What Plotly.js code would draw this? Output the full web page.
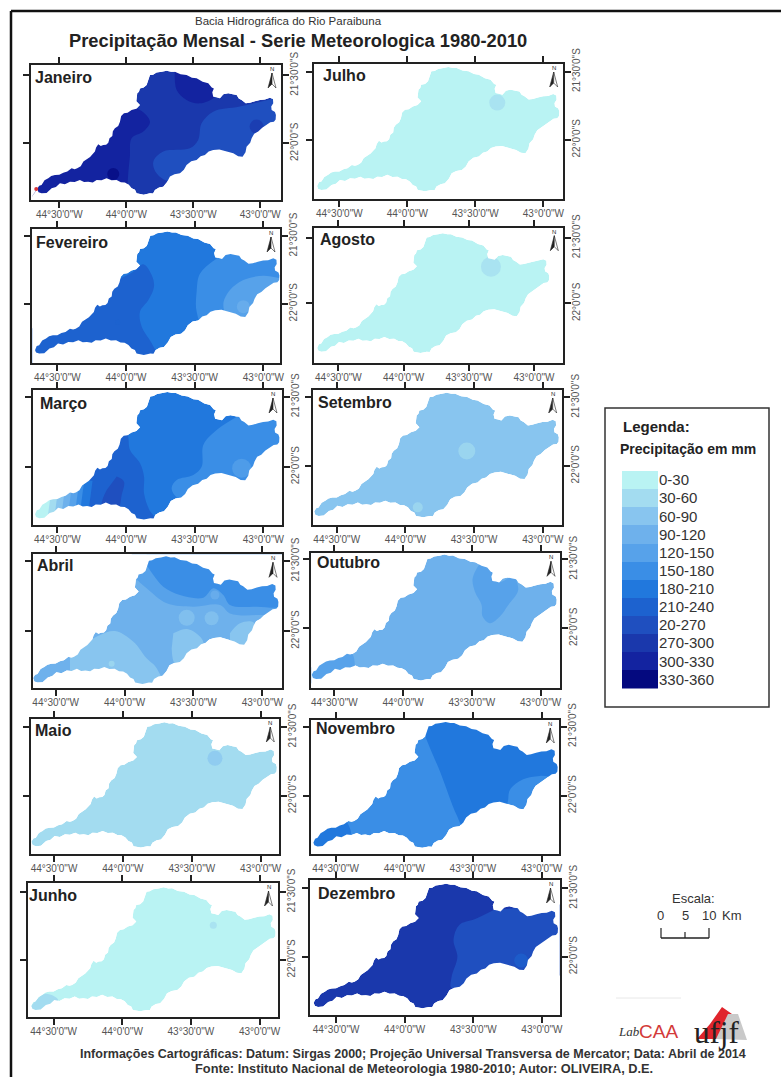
<!DOCTYPE html>
<html><head><meta charset="utf-8">
<script src="https://cdn.plot.ly/plotly-3.0.1.min.js"></script>
<style>html,body{margin:0;padding:0;background:#fff}#c{width:781px;height:1077px}</style>
</head><body><div id="c"></div>
<script>
const W=781,H=1077;
const classLabels=["0-30","30-60","60-90","90-120","120-150","150-180","180-210","210-240","20-270","270-300","300-330","330-360"];
const classColors=["#b9f3f3","#a3dcf0","#88c5ef","#6eb1ec","#57a2ea","#3a8ee6","#2178dd","#1d62cf","#1f4fbf","#1a38ac","#1323a0","#04097f"];
const months=["Janeiro","Julho","Fevereiro","Agosto","Março","Setembro","Abril","Outubro","Maio","Novembro","Junho","Dezembro"];
const monthBase=[9,0,6,0,6,2,3,3,1,5,0,9];
const frames=[[31,65,281,200],[314,64,562.7,199],[32.3,229,280,363.3],[314,227.7,563.3,362.7],[32.7,390,282,525],[312.7,390,561.7,525],[32.7,554.3,282,688.3],[311.3,553.3,560,688.3],[30.7,719,279.3,854],[310.7,720,559.3,854.3],[28,883,277.5,1017],[310,880,559.5,1015]];
const lonRanges=[[-44.711,-42.845],[-44.686,-42.858],[-44.682,-42.879],[-44.687,-42.775],[-44.680,-42.864],[-44.675,-42.862],[-44.667,-42.857],[-44.667,-42.859],[-44.669,-42.865],[-44.682,-42.871],[-44.687,-42.869],[-44.690,-42.872]];
const latRanges=[[-22.417,-21.424],[-22.434,-21.444],[-22.440,-21.448],[-22.452,-21.424],[-22.417,-21.452],[-22.434,-21.446],[-22.409,-21.452],[-22.435,-21.457],[-22.425,-21.442],[-22.425,-21.452],[-22.420,-21.434],[-22.427,-21.439]];
const titleX=[33,321,34,318,38,316,35,315,33,314,27,316];
const titleY=[77,76,242,239,403,402,565,562,730,728,895,893];
const lonTicks=[-44.5,-44,-43.5,-43], lonLabels=["44°30'0\"W","44°0'0\"W","43°30'0\"W","43°0'0\"W"];
const latTicks=[-21.5,-22], latLabels=["21°30'0\"S","22°0'0\"S"];

const basinLon=[-44.664,-44.650,-44.632,-44.610,-44.582,-44.560,-44.532,-44.500,-44.470,-44.440,-44.408,-44.385,-44.366,-44.340,-44.320,-44.301,-44.270,-44.234,-44.225,-44.209,-44.190,-44.172,-44.150,-44.134,-44.125,-44.104,-44.100,-44.085,-44.060,-44.047,-44.038,-44.017,-43.990,-43.960,-43.925,-43.898,-43.925,-43.918,-43.905,-43.898,-43.870,-43.848,-43.835,-43.823,-43.800,-43.774,-43.735,-43.699,-43.665,-43.637,-43.595,-43.550,-43.510,-43.475,-43.430,-43.388,-43.362,-43.346,-43.358,-43.351,-43.325,-43.301,-43.275,-43.239,-43.205,-43.176,-43.160,-43.139,-43.108,-43.077,-43.040,-43.002,-42.965,-42.928,-42.905,-42.903,-42.918,-42.915,-42.890,-42.883,-42.885,-42.898,-42.925,-42.952,-42.985,-43.015,-43.045,-43.064,-43.075,-43.102,-43.110,-43.132,-43.165,-43.201,-43.230,-43.263,-43.305,-43.351,-43.385,-43.413,-43.445,-43.475,-43.515,-43.550,-43.570,-43.599,-43.640,-43.674,-43.695,-43.724,-43.755,-43.786,-43.800,-43.823,-43.870,-43.923,-43.935,-43.960,-43.982,-44.010,-44.040,-44.072,-44.110,-44.147,-44.185,-44.221,-44.250,-44.284,-44.315,-44.346,-44.385,-44.420,-44.458,-44.495,-44.525,-44.557,-44.595,-44.632,-44.655];
const basinLat=[-22.336,-22.312,-22.306,-22.272,-22.257,-22.240,-22.233,-22.232,-22.216,-22.208,-22.184,-22.190,-22.184,-22.168,-22.134,-22.123,-22.100,-22.061,-22.030,-22.007,-22.020,-22.012,-22.010,-21.995,-21.962,-21.946,-21.912,-21.890,-21.872,-21.841,-21.800,-21.779,-21.775,-21.755,-21.745,-21.718,-21.690,-21.632,-21.620,-21.596,-21.590,-21.571,-21.535,-21.498,-21.495,-21.480,-21.474,-21.466,-21.474,-21.473,-21.492,-21.498,-21.518,-21.522,-21.548,-21.559,-21.590,-21.596,-21.625,-21.657,-21.662,-21.669,-21.640,-21.632,-21.640,-21.645,-21.670,-21.681,-21.705,-21.701,-21.690,-21.681,-21.678,-21.664,-21.675,-21.706,-21.730,-21.755,-21.770,-21.792,-21.825,-21.841,-21.845,-21.865,-21.885,-21.914,-21.930,-21.963,-21.995,-22.025,-22.065,-22.098,-22.095,-22.074,-22.065,-22.054,-22.045,-22.049,-22.060,-22.086,-22.095,-22.123,-22.132,-22.159,-22.195,-22.221,-22.228,-22.245,-22.285,-22.319,-22.325,-22.343,-22.370,-22.368,-22.378,-22.368,-22.342,-22.331,-22.305,-22.289,-22.287,-22.270,-22.272,-22.257,-22.272,-22.270,-22.288,-22.282,-22.285,-22.270,-22.285,-22.282,-22.302,-22.294,-22.322,-22.331,-22.365,-22.368,-22.360];

// Zones of each month: class index, longitudes, latitudes
const zonesJaneiro=[
 [10,[-44.694,-44.694,-44.022,-43.898,-43.823,-43.873,-43.960,-43.973,-43.985,-43.997],[-22.417,-22.172,-21.730,-21.755,-21.841,-21.914,-21.963,-22.098,-22.221,-22.417]],
 [8,[-42.853,-43.152,-43.351,-43.438,-43.463,-43.525,-43.724,-43.798,-43.774,-43.674,-43.351,-42.853],[-21.657,-21.730,-21.767,-21.853,-21.975,-22.037,-22.061,-22.135,-22.221,-22.282,-22.221,-22.123]],
 [10,[-43.637,-43.624,-43.550,-43.450,-43.338,-43.301,-43.450],[-21.449,-21.608,-21.681,-21.706,-21.657,-21.559,-21.436]]];
const zonesFevereiro=[
 [7,[-44.699,-44.699,-43.947,-43.874,-43.813,-43.796,-43.837,-43.898,-43.886,-43.813,-43.765,-43.752],[-22.452,-22.206,-21.763,-21.709,-21.788,-21.874,-21.972,-22.058,-22.169,-22.292,-22.391,-22.452]],
 [5,[-43.340,-43.461,-43.486,-43.486,-43.437,-42.830,-42.830,-43.219],[-21.665,-21.776,-21.911,-22.058,-22.157,-22.157,-21.591,-21.591]],
 [4,[-42.879,-43.000,-43.146,-43.243,-43.291,-43.267,-43.121,-42.830],[-21.812,-21.793,-21.825,-21.899,-21.997,-22.083,-22.157,-22.083]]];
const zonesMarco=[
 [7,[-44.019,-43.988,-43.971,-43.898,-43.869,-43.869,-43.830,-43.777,-43.777,-44.335,-44.335,-44.189],[-21.738,-21.774,-21.881,-21.976,-22.071,-22.190,-22.309,-22.381,-22.428,-22.428,-22.143,-21.952]],
 [8,[-44.068,-44.015,-44.032,-44.056,-44.129,-44.177,-44.141],[-22.071,-22.107,-22.202,-22.297,-22.321,-22.274,-22.166]],
 [5,[-43.170,-43.340,-43.437,-43.449,-43.510,-43.631,-43.668,-43.619,-43.364,-42.806,-42.806],[-21.631,-21.738,-21.845,-22.000,-22.059,-22.095,-22.155,-22.226,-22.190,-22.095,-21.595]]];
// March fades towards the south-west tip: class index, eastern limit (lon)
const marcoBandClass=[6,5,4,3,2,1,0];
const marcoBandLon=[-44.274,-44.335,-44.371,-44.420,-44.468,-44.517,-44.566];
const zonesAbril=[
 [2,[-44.396,-44.299,-44.178,-44.069,-43.936,-43.840,-43.767,-43.719,-44.396],[-22.195,-22.100,-22.028,-22.000,-22.076,-22.195,-22.266,-22.433,-22.433]],
 [4,[-43.948,-43.840,-43.694,-43.501,-43.307,-43.235,-43.041,-42.824,-42.824,-43.948],[-21.600,-21.695,-21.802,-21.826,-21.814,-21.874,-21.886,-21.850,-21.433,-21.433]],
 [5,[-43.840,-43.791,-43.719,-43.598,-43.428,-43.356,-43.283,-43.235,-43.041,-42.824,-42.824,-43.840],[-21.529,-21.600,-21.683,-21.743,-21.762,-21.695,-21.743,-21.814,-21.826,-21.809,-21.433,-21.433]],
 [2,[-43.646,-43.549,-43.465,-43.428,-43.549,-43.634,-43.658],[-22.016,-21.986,-22.028,-22.088,-22.195,-22.231,-22.124]],
 [2,[-43.235,-43.162,-43.066,-43.029,-43.138,-43.235],[-22.016,-21.945,-21.938,-22.052,-22.147,-22.076]],
 [3,[-44.183,-44.130,-44.069,-44.130],[-22.290,-22.271,-22.290,-22.323]]];
const zonesOutubro=[
 [4,[-43.441,-43.494,-43.478,-43.429,-43.422,-43.368,-43.296,-43.235,-43.163,-43.199,-43.296,-43.356,-43.356],[-21.529,-21.638,-21.734,-21.831,-21.915,-21.964,-21.915,-21.831,-21.722,-21.626,-21.662,-21.589,-21.517]],
 [4,[-44.350,-44.374,-44.531,-44.689,-44.653,-44.483],[-22.302,-22.181,-22.205,-22.314,-22.410,-22.410]],
 [4,[-44.187,-44.120,-44.047,-44.124],[-22.307,-22.278,-22.304,-22.338]]];
const zonesNovembro=[
 [6,[-43.886,-43.850,-43.740,-43.619,-43.558,-43.304,-43.250,-43.231,-43.134,-43.012,-42.818,-42.818],[-21.428,-21.560,-21.826,-22.140,-22.237,-22.104,-22.055,-21.959,-21.882,-21.857,-21.857,-21.428]],
 [6,[-44.420,-44.391,-44.541,-44.711,-44.711,-44.566],[-22.188,-22.285,-22.381,-22.406,-22.249,-22.200]]];
const zonesJunho=[
 [1,[-44.667,-44.561,-44.467,-44.542,-44.625],[-22.342,-22.249,-22.293,-22.347,-22.415]],
 [1,[-44.185,-44.115,-44.054,-44.124],[-22.322,-22.298,-22.313,-22.349]]];
const zonesDezembro=[
 [8,[-43.351,-43.491,-43.602,-43.644,-43.616,-43.658,-43.658,-43.323,-42.766,-42.766],[-21.659,-21.727,-21.768,-21.878,-22.000,-22.147,-22.232,-22.122,-22.098,-21.610]]];
const monthZones=[zonesJaneiro,[],zonesFevereiro,[],zonesMarco,[],zonesAbril,zonesOutubro,[],zonesNovembro,zonesJunho,zonesDezembro];

// Local spots of each month: class index, lon, lat, size
const spotsMonth=[
 [[11,-44.097,-22.225,12],[9,-43.027,-21.877,14]],
 [[1,-43.339,-21.727,16]],
 [[3,-43.146,-22.022,13],[7,-44.061,-22.137,5]],
 [[1,-43.330,-21.721,20]],
 [[4,-43.158,-22.012,19]],
 [[1,-43.553,-21.893,17],[1,-43.910,-22.305,10]],
 [[2,-43.549,-21.905,16],[2,-43.368,-21.909,14],[3,-43.344,-21.743,9],[1,-44.094,-22.233,6]],
 [],
 [[2,-43.332,-21.728,15]],
 [],
 [[1,-43.337,-21.744,7]],
 [[7,-43.151,-22.029,14]]];

const px=x=>x/W, py=y=>1-y/H;
const traces=[],annotations=[],shapes=[],layout={};
const axisFont={family:"Liberation Sans, Arial, sans-serif",size:10,color:"#555"};
months.forEach((m,i)=>{
  const k=i+1, xa=k===1?"x":"x"+k, ya=k===1?"y":"y"+k;
  const f=frames[i], lr=lonRanges[i], ar=latRanges[i];
  layout[k===1?"xaxis":"xaxis"+k]={domain:[px(f[0]),px(f[2])],range:lr,anchor:ya,tickmode:"array",tickvals:lonTicks,ticktext:lonLabels,ticks:"outside",ticklen:6,tickwidth:1.5,tickcolor:"#222",linecolor:"#222",linewidth:2,mirror:"ticks",showgrid:false,zeroline:false,tickangle:0,tickfont:axisFont,ticklabelstandoff:-2};
  layout[k===1?"yaxis":"yaxis"+k]={domain:[py(f[3]),py(f[1])],range:ar,anchor:xa,side:"right",tickmode:"array",tickvals:latTicks,ticktext:latLabels,ticks:"outside",ticklen:6,tickwidth:1.5,tickcolor:"#222",linecolor:"#222",linewidth:2,mirror:"ticks",showgrid:false,zeroline:false,tickangle:-90,tickfont:axisFont,ticklabelstandoff:-3};
  const common={xaxis:xa,yaxis:ya,hoverinfo:"skip",showlegend:false};
  traces.push({...common,type:"scatter",mode:"lines",x:basinLon.concat(basinLon[0]),y:basinLat.concat(basinLat[0]),fill:"toself",fillcolor:classColors[monthBase[i]],line:{width:0}});
  monthZones[i].forEach(z=>traces.push({...common,type:"scatter",mode:"lines",x:z[1],y:z[2],fill:"toself",fillcolor:classColors[z[0]],line:{width:0,shape:"spline",smoothing:1}}));
  if(m==="Março") marcoBandLon.forEach((b,j)=>traces.push({...common,type:"scatter",mode:"lines",x:[b+0.03,b-0.01,lr[0],lr[0]],y:[-22.10,-22.40,-22.40,-22.10],fill:"toself",fillcolor:classColors[marcoBandClass[j]],line:{width:0}}));
  if(spotsMonth[i].length) traces.push({...common,type:"scatter",mode:"markers",x:spotsMonth[i].map(s=>s[1]),y:spotsMonth[i].map(s=>s[2]),marker:{size:spotsMonth[i].map(s=>s[3]),color:spotsMonth[i].map(s=>classColors[s[0]]),line:{width:0}}});
  // everything outside the basin is masked white (counter-clockwise frame, clockwise basin)
  const e=0.03, a0=lr[0]-e, a1=lr[1]+e, b0=ar[0]-e, b1=ar[1]+e;
  const mx=[a0,a1,a1,a0,a0].concat(basinLon,basinLon[0],a0);
  const my=[b0,b0,b1,b1,b0].concat(basinLat,basinLat[0],b0);
  traces.push({...common,type:"scatter",mode:"lines",x:mx,y:my,fill:"toself",fillcolor:"#fff",line:{width:0}});
  annotations.push({xref:"paper",yref:"paper",x:px(titleX[i]),y:py(titleY[i]),xanchor:"left",yanchor:"middle",showarrow:false,text:"<b>"+m+"</b>",font:{family:"Liberation Sans, Arial, sans-serif",size:16,color:"#222"}});
  // north arrow
  const ax=f[2]-9, ay=f[1]+8;
  annotations.push({xref:"paper",yref:"paper",x:px(ax),y:py(ay-4),xanchor:"center",yanchor:"middle",showarrow:false,text:"N",font:{family:"Liberation Sans, Arial, sans-serif",size:6,color:"#222"}});
  const pth=pts=>"M"+pts.map(p=>px(p[0])+","+py(p[1])).join("L")+"Z";
  shapes.push({type:"path",xref:"paper",yref:"paper",path:pth([[ax,ay],[ax,ay+11],[ax-4,ay+15]]),fillcolor:"#222",line:{color:"#222",width:0.6}});
  shapes.push({type:"path",xref:"paper",yref:"paper",path:pth([[ax,ay],[ax,ay+11],[ax+4,ay+15]]),fillcolor:"#fff",line:{color:"#222",width:0.6}});
});
// red tip of Janeiro, over the mask
traces.push({xaxis:"x",yaxis:"y",type:"scatter",mode:"markers",x:[-44.672],y:[-22.336],marker:{size:4,color:"#d8353a"},hoverinfo:"skip",showlegend:false});

// legend ramp
traces.push({type:"bar",orientation:"h",xaxis:"x13",yaxis:"y13",y:classLabels,x:classLabels.map(()=>1),width:1,marker:{color:classColors,line:{width:0}},hoverinfo:"skip",showlegend:false});
layout.xaxis13={domain:[px(622),px(658)],range:[0,1],anchor:"y13",visible:false};
layout.yaxis13={domain:[py(688.5),py(471)],anchor:"x13",side:"right",type:"category",autorange:"reversed",showline:false,ticks:"",showgrid:false,zeroline:false,tickfont:{family:"Liberation Sans, Arial, sans-serif",size:15,color:"#333"},ticklabelstandoff:0};

function text(t,x,y,size,o={}){annotations.push({xref:"paper",yref:"paper",x:px(x),y:py(y),xanchor:o.anchor||"center",yanchor:"middle",showarrow:false,text:t,font:{family:o.family||"Liberation Sans, Arial, sans-serif",size:size,color:o.color||"#333"}});}
function rect(x0,y0,x1,y1,st){shapes.push({type:"rect",xref:"paper",yref:"paper",x0:px(x0),x1:px(x1),y0:py(y0),y1:py(y1),...st});}
function seg(x0,y0,x1,y1,w,c){shapes.push({type:"line",xref:"paper",yref:"paper",x0:px(x0),x1:px(x1),y0:py(y0),y1:py(y1),line:{color:c||"#222",width:w}});}
function poly(pts,c){shapes.push({type:"path",xref:"paper",yref:"paper",path:"M"+pts.map(p=>px(p[0])+","+py(p[1])).join("L")+"Z",fillcolor:c,line:{width:0}});}

text("Bacia Hidrográfica do Rio Paraibuna",288,21.5,11.5,{color:"#333"});
text("<b>Precipitação Mensal - Serie Meteorologica 1980-2010</b>",298,40,18.3,{color:"#222"});
text("<b>Informações Cartográficas: Datum: Sirgas 2000; Projeção Universal Transversa de Mercator; Data: Abril de 2014</b>",413,1054,12.5);
text("<b>Fonte: Instituto Nacional de Meteorologia 1980-2010; Autor: OLIVEIRA, D.E.</b>",424,1068,12.8);
text("<b>Legenda:</b>",621,426,15,{anchor:"left",color:"#222"});
text("<b>Precipitação em mm</b>",688,449,14,{color:"#222"});
text("Escala:",693,898,13);
text("0",660.5,915,13);text("5",685,915,13);text("10",709,915,13);text("Km",732,915,13);
seg(661,928,661,938,1.2);seg(709,928,709,938,1.2);seg(685,932,685,938,1.2);seg(661,938,709,938,1.5);
rect(605,408,769,707,{line:{color:"#333",width:1.5},fillcolor:"rgba(0,0,0,0)"});
seg(11,11,781,11,2.5,"#111");seg(11,11,11,1077,2.5,"#111");
seg(616,998,681,998,1,"#e8e8e8");
poly([[697,1039],[710,1024],[722,1007],[732,1014],[726,1039]],"#e0242c");
poly([[716,1039],[728,1014],[738,1014],[747,1040]],"#c9c9c9");
text("<i>Lab</i>",629,1031,13,{color:"#333",family:"Liberation Serif, serif"});
text("CAA",658,1031,19,{color:"#d33a3a"});
text("ufjf",716,1032,31,{color:"#222",family:"Liberation Serif, serif"});

Object.assign(layout,{width:W,height:H,margin:{l:0,r:0,t:0,b:0},paper_bgcolor:"#fff",plot_bgcolor:"#fff",showlegend:false,annotations,shapes,bargap:0});
Plotly.newPlot("c",traces,layout,{displayModeBar:false,responsive:false});
</script></body></html>
